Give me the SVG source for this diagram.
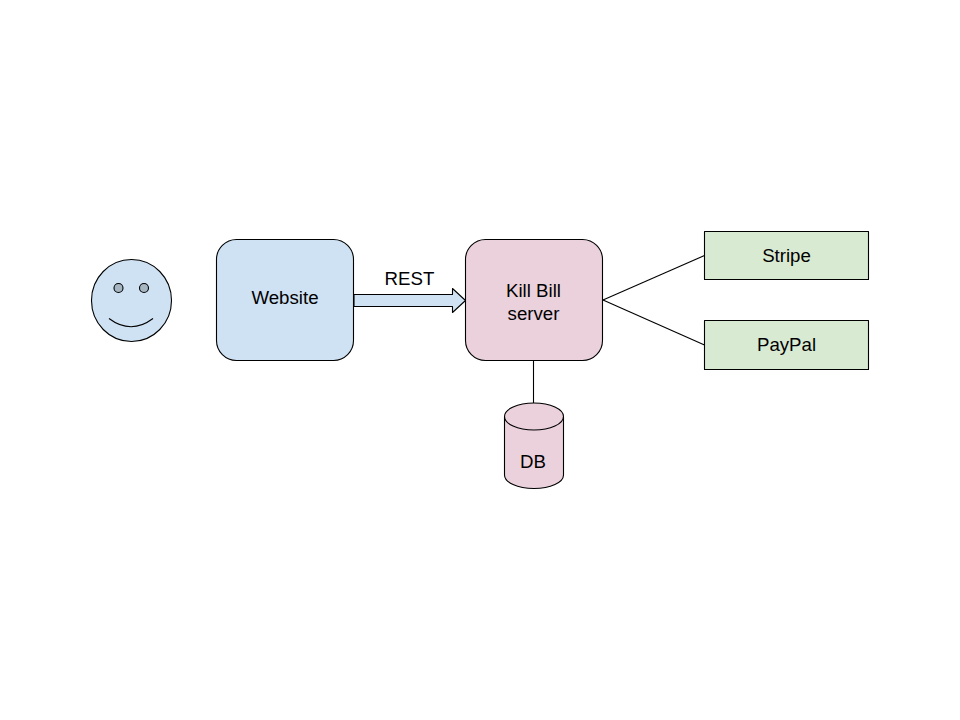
<svg xmlns="http://www.w3.org/2000/svg" width="960" height="720" viewBox="0 0 960 720">
<style>
.s{stroke:#000;stroke-width:1.1;stroke-linejoin:round}
.b{fill:#cfe2f3}.p{fill:#ead1dc}.g{fill:#d9ead3}
text{font-family:"Liberation Sans",Arial,sans-serif;font-size:18.67px;fill:#000;text-anchor:middle}
.l{fill:none;stroke:#000;stroke-width:1.1}
</style>
<rect width="960" height="720" fill="#fff"/>
<g id="connectors">
<line class="l" x1="603" y1="300" x2="704.500" y2="255.500"/>
<line class="l" x1="603" y1="300" x2="704.500" y2="345"/>
<line class="l" x1="533.500" y1="361" x2="533.500" y2="403"/>
<path id="rest-arrow" class="s b" d="M354 294.500H452.500V288.500L465.500 300.500L452.500 312.500V306.500H354Z"/>
<text x="409.500" y="285">REST</text>
</g>
<g id="user">
<ellipse class="s b" cx="131.500" cy="300.500" rx="40" ry="41"/>
<circle class="s" cx="118.500" cy="288" r="4.500" fill="#a5b5c2"/>
<circle class="s" cx="144" cy="288" r="4.500" fill="#a5b5c2"/>
<path class="l" d="M109 318.500Q131 335 153 318.500"/>
</g>
<g id="website">
<rect class="s b" x="216.500" y="239.500" width="137" height="121" rx="20" ry="20"/>
<text x="285" y="304">Website</text>
</g>
<g id="killbill">
<rect class="s p" x="465.500" y="239.500" width="137" height="121" rx="20" ry="20"/>
<text x="533.500" y="297">Kill Bill</text>
<text x="533.500" y="320">server</text>
</g>
<g id="db">
<path class="s p" d="M504.500 416.500C504.500 409 517.500 403 534 403S563.500 409 563.500 416.500V475C563.500 482.500 550.500 488.500 534 488.500S504.500 482.500 504.500 475Z"/>
<path class="l" d="M504.500 416.500C504.500 424 517.500 430 534 430S563.500 424 563.500 416.500"/>
<text x="533" y="468">DB</text>
</g>
<g id="stripe">
<rect class="s g" x="704.500" y="231.500" width="164" height="48"/>
<text x="786.500" y="262">Stripe</text>
</g>
<g id="paypal">
<rect class="s g" x="704.500" y="320.500" width="164" height="49"/>
<text x="786.500" y="351">PayPal</text>
</g>
</svg>
